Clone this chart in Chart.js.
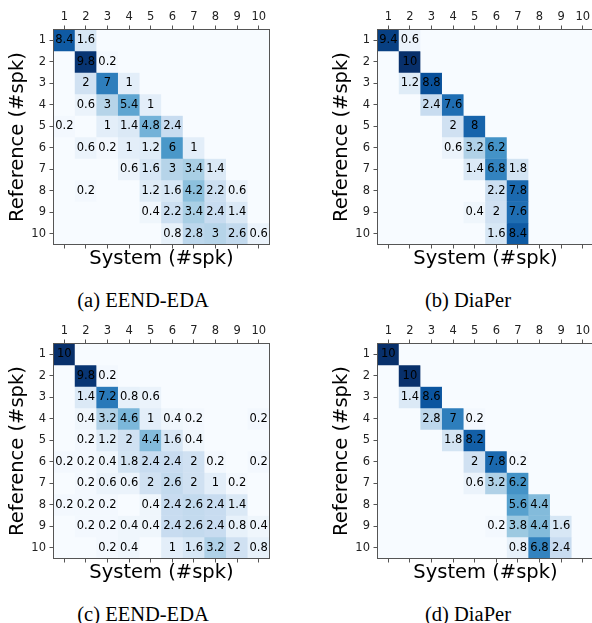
<!DOCTYPE html>
<html>
<head>
<meta charset="utf-8">
<script src="https://cdn.jsdelivr.net/npm/chart.js@4.4.1/dist/chart.umd.min.js"></script>
<style>
html,body{margin:0;padding:0;background:#fff;}
body{width:592px;height:623px;overflow:hidden;position:relative;}
canvas{position:absolute;}
.cap{position:absolute;width:240px;text-align:center;font-family:"Liberation Serif","Times New Roman",serif;font-size:20.5px;line-height:24px;color:#000;white-space:nowrap;}
</style>
</head>
<body>
<canvas id="pa" width="296" height="276" style="left:0;top:0;width:296px;height:276px"></canvas>
<canvas id="pb" width="296" height="276" style="left:324px;top:0;width:296px;height:276px"></canvas>
<canvas id="pc" width="296" height="276" style="left:0;top:314px;width:296px;height:276px"></canvas>
<canvas id="pd" width="296" height="276" style="left:324px;top:314px;width:296px;height:276px"></canvas>
<div class="cap" style="left:23px;top:288px">(a) EEND-EDA</div>
<div class="cap" style="left:348px;top:288px">(b) DiaPer</div>
<div class="cap" style="left:23px;top:602px">(c) EEND-EDA</div>
<div class="cap" style="left:348px;top:602px">(d) DiaPer</div>
<script>
// system (#spk) columns and reference (#spk) rows
const speakers=['1','2','3','4','5','6','7','8','9','10'];
const rowTicks=[1,2,3,4,5,6,7,8,9,10];

// (a) EEND-EDA
const eendA=[
[8.4,1.6,0,0,0,0,0,0,0,0],
[0,9.8,0.2,0,0,0,0,0,0,0],
[0,2,7,1,0,0,0,0,0,0],
[0,0.6,3,5.4,1,0,0,0,0,0],
[0.2,0,1,1.4,4.8,2.4,0,0,0,0],
[0,0.6,0.2,1,1.2,6,1,0,0,0],
[0,0,0,0.6,1.6,3,3.4,1.4,0,0],
[0,0.2,0,0,1.2,1.6,4.2,2.2,0.6,0],
[0,0,0,0,0.4,2.2,3.4,2.4,1.4,0],
[0,0,0,0,0,0.8,2.8,3,2.6,0.6]
];
// (b) DiaPer
const diaperB=[
[9.4,0.6,0,0,0,0,0,0,0,0],
[0,10,0,0,0,0,0,0,0,0],
[0,1.2,8.8,0,0,0,0,0,0,0],
[0,0,2.4,7.6,0,0,0,0,0,0],
[0,0,0,2,8,0,0,0,0,0],
[0,0,0,0.6,3.2,6.2,0,0,0,0],
[0,0,0,0,1.4,6.8,1.8,0,0,0],
[0,0,0,0,0,2.2,7.8,0,0,0],
[0,0,0,0,0.4,2,7.6,0,0,0],
[0,0,0,0,0,1.6,8.4,0,0,0]
];
// (c) EEND-EDA
const eendC=[
[10,0,0,0,0,0,0,0,0,0],
[0,9.8,0.2,0,0,0,0,0,0,0],
[0,1.4,7.2,0.8,0.6,0,0,0,0,0],
[0,0.4,3.2,4.6,1,0.4,0.2,0,0,0.2],
[0,0.2,1.2,2,4.4,1.6,0.4,0,0,0],
[0.2,0.2,0.4,1.8,2.4,2.4,2,0.2,0,0.2],
[0,0.2,0.6,0.6,2,2.6,2,1,0.2,0],
[0.2,0.2,0.2,0,0.4,2.4,2.6,2.4,1.4,0],
[0,0.2,0.2,0.4,0.4,2.4,2.6,2.4,0.8,0.4],
[0,0,0.2,0.4,0,1,1.6,3.2,2,0.8]
];
// (d) DiaPer
const diaperD=[
[10,0,0,0,0,0,0,0,0,0],
[0,10,0,0,0,0,0,0,0,0],
[0,1.4,8.6,0,0,0,0,0,0,0],
[0,0,2.8,7,0.2,0,0,0,0,0],
[0,0,0,1.8,8.2,0,0,0,0,0],
[0,0,0,0,2,7.8,0.2,0,0,0],
[0,0,0,0,0.6,3.2,6.2,0,0,0],
[0,0,0,0,0,0,5.6,4.4,0,0],
[0,0,0,0,0,0.2,3.8,4.4,1.6,0],
[0,0,0,0,0,0,0.8,6.8,2.4,0]
];

const BLUES=['#f7fbff','#deebf7','#c6dbef','#9ecae1','#6baed6','#4292c6','#2171b5','#08519c','#08306b'];
function hex(h){return [1,3,5].map(i=>parseInt(h.substr(i,2),16));}
function blues(v){
const t=Math.max(0,Math.min(1,v/10))*(BLUES.length-1);
const i=Math.min(Math.floor(t),BLUES.length-2),f=t-i;
const a=hex(BLUES[i]),b=hex(BLUES[i+1]);
return 'rgb('+a.map((c,k)=>Math.round(c+(b[k]-c)*f)).join(',')+')';
}

Chart.defaults.font.family='"DejaVu Sans"';
const tickFont={size:11.5};
const titleFont={size:19.5,lineHeight:1};
const edge='#555';

const cells={
id:'cells',
beforeDatasetsDraw(chart){
const {ctx,chartArea:a}=chart;
ctx.save();
ctx.fillStyle=BLUES[0];
ctx.fillRect(a.left,a.top,a.width,a.height);
ctx.restore();
},
afterDatasetsDraw(chart){
const {ctx,chartArea:a}=chart;
ctx.save();
ctx.font='11.5px "DejaVu Sans"';
ctx.fillStyle='#000';
ctx.textAlign='center';
ctx.textBaseline='middle';
chart.data.datasets.forEach((ds,i)=>{
chart.getDatasetMeta(i).data.forEach((bar,j)=>{
const v=ds.values[j];
if(!v) return;
ctx.fillText(String(v),bar.x,(bar.y+bar.base)/2);
});
});
ctx.strokeStyle=edge;
ctx.lineWidth=1;
ctx.strokeRect(a.left,a.top,a.width,a.height);
ctx.restore();
}
};

function heatmap(id,matrix){
new Chart(document.getElementById(id),{
type:'bar',
data:{
labels:speakers,
datasets:matrix.map((row,r)=>({
data:row.map(()=>[r+0.5,r+1.5]),
values:row,
backgroundColor:row.map(blues),
borderWidth:0,
grouped:false,
barPercentage:1,
categoryPercentage:1
}))
},
options:{
responsive:false,
animation:false,
events:[],
layout:{padding:{left:8.25,top:0,right:26.5,bottom:7.5}},
plugins:{legend:{display:false},tooltip:{enabled:false}},
scales:{
x:{
position:'top',
offset:true,
grid:{offset:false,drawOnChartArea:false,tickLength:4,color:edge},
border:{display:false},
ticks:{font:tickFont,color:'#222',padding:2,maxRotation:0},
afterFit:s=>{s.height=29.5;}
},
xb:{
type:'category',
position:'bottom',
offset:true,
grid:{offset:false,drawOnChartArea:false,tickLength:4,color:edge},
border:{display:false},
ticks:{display:false},
title:{display:true,text:'System (#spk)',font:titleFont,color:'#000',padding:0},
afterFit:s=>{s.height=24;}
},
y:{
type:'linear',
reverse:true,
min:0.5,
max:10.5,
afterBuildTicks:s=>{s.ticks=rowTicks.map(v=>({value:v}));},
grid:{drawOnChartArea:false,tickLength:4,color:edge},
border:{display:false},
ticks:{font:tickFont,color:'#222',padding:3.5},
title:{display:true,text:'Reference (#spk)',font:titleFont,color:'#000',padding:0},
afterFit:s=>{s.width=45.25;}
}
}
},
plugins:[cells]
});
}

heatmap('pa',eendA);
heatmap('pb',diaperB);
heatmap('pc',eendC);
heatmap('pd',diaperD);
</script>
</body>
</html>
